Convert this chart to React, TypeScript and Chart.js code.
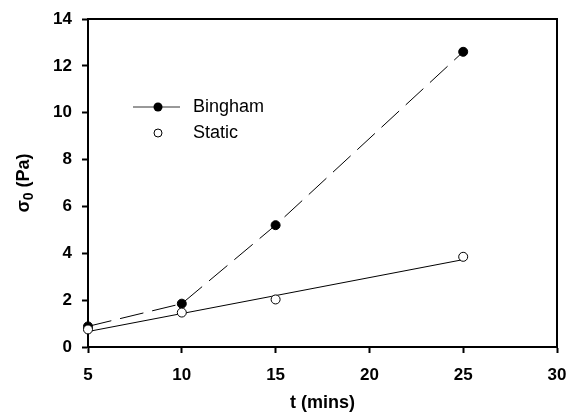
import React, { useEffect, useRef } from "react";
import { Chart, registerables } from "chart.js";

Chart.register(...registerables);

const timeMins = [5, 10, 15, 25];
const binghamValues = [0.88, 1.85, 5.2, 12.6];
const staticValues = [0.75, 1.47, 2.03, 3.85];
const staticFitX = [5, 25];
const staticFitY = [0.66, 3.73];
const xTickValues = [5, 10, 15, 20, 25, 30];
const yTickValues = [0, 2, 4, 6, 8, 10, 12, 14];
const legendLabels = ["Bingham", "Static"];

const FONT = "'Liberation Sans', Arial, Helvetica, sans-serif";

const overlayPlugin = {
  id: "overlay",
  afterDraw(chart: any) {
    const ctx = chart.ctx as CanvasRenderingContext2D;
    const a = chart.chartArea;
    ctx.save();
    // frame top + right
    ctx.strokeStyle = "#000";
    ctx.lineWidth = 2;
    ctx.beginPath();
    ctx.moveTo(a.left, a.top);
    ctx.lineTo(a.right, a.top);
    ctx.lineTo(a.right, a.bottom);
    ctx.stroke();

    // legend
    const lx = 158;
    const ly1 = 107;
    const ly2 = 133;
    ctx.lineWidth = 1;
    ctx.strokeStyle = "#333";
    ctx.beginPath();
    ctx.moveTo(133, ly1);
    ctx.lineTo(180, ly1);
    ctx.stroke();
    ctx.fillStyle = "#000";
    ctx.beginPath();
    ctx.arc(lx, ly1, 4.5, 0, Math.PI * 2);
    ctx.fill();
    ctx.fillStyle = "#fff";
    ctx.strokeStyle = "#000";
    ctx.beginPath();
    ctx.arc(lx, ly2, 4, 0, Math.PI * 2);
    ctx.fill();
    ctx.stroke();
    ctx.fillStyle = "#000";
    ctx.font = `18px ${FONT}`;
    ctx.textAlign = "left";
    ctx.textBaseline = "middle";
    ctx.fillText(legendLabels[0], 193, ly1);
    ctx.fillText(legendLabels[1], 193, ly2);

    // x title
    ctx.font = `bold 18px ${FONT}`;
    ctx.textAlign = "center";
    ctx.textBaseline = "middle";
    ctx.fillText("t (mins)", (a.left + a.right) / 2, 403);

    // y title with subscript
    ctx.translate(23, (a.top + a.bottom) / 2);
    ctx.rotate(-Math.PI / 2);
    const big = `bold 18px ${FONT}`;
    const small = `bold 14px ${FONT}`;
    ctx.font = big;
    const w1 = ctx.measureText("σ").width;
    const w3 = ctx.measureText(" (Pa)").width;
    ctx.font = small;
    const w2 = ctx.measureText("0").width;
    const total = w1 + w2 + w3;
    let x = -total / 2;
    ctx.textAlign = "left";
    ctx.textBaseline = "alphabetic";
    ctx.font = big;
    ctx.fillText("σ", x, 6);
    x += w1;
    ctx.font = small;
    ctx.fillText("0", x, 10);
    x += w2;
    ctx.font = big;
    ctx.fillText(" (Pa)", x, 6);
    ctx.restore();
  },
};

export default function App() {
  const ref = useRef<HTMLCanvasElement | null>(null);
  useEffect(() => {
    if (!ref.current) return;
    const chart = new Chart(ref.current, {
      type: "line",
      data: {
        datasets: [
          {
            label: legendLabels[1],
            data: timeMins.map((t, i) => ({ x: t, y: staticValues[i] })),
            showLine: false,
            pointRadius: 4.5,
            pointBackgroundColor: "#fff",
            pointBorderColor: "#000",
            pointBorderWidth: 1,
            clip: false as any,
          },
          {
            label: legendLabels[0],
            data: timeMins.map((t, i) => ({ x: t, y: binghamValues[i] })),
            borderColor: "#000",
            borderWidth: 1,
            borderDash: [24, 9],
            pointRadius: 4.5,
            pointBackgroundColor: "#000",
            pointBorderColor: "#000",
            pointBorderWidth: 1,
            tension: 0,
            clip: false as any,
          },
          {
            label: "fit",
            data: staticFitX.map((t, i) => ({ x: t, y: staticFitY[i] })),
            borderColor: "#000",
            borderWidth: 1,
            pointRadius: 0,
            tension: 0,
            clip: false as any,
          },
        ],
      },
      options: {
        animation: false,
        responsive: false,
        events: [],
        layout: { padding: { left: 0, right: 12, top: 19, bottom: 0 } },
        plugins: {
          legend: { display: false },
          tooltip: { enabled: false },
        },
        scales: {
          x: {
            type: "linear",
            min: 5,
            max: 30,
            afterFit: (s: any) => {
              s.height = 65;
              s.paddingLeft = 0;
              s.paddingRight = 0;
            },
            afterBuildTicks: (s: any) => {
              s.ticks = xTickValues.map((v) => ({ value: v }));
            },
            grid: {
              drawOnChartArea: false,
              drawTicks: true,
              tickLength: 6,
              tickWidth: 2,
              tickColor: "#000",
            },
            border: { color: "#000", width: 2 },
            ticks: {
              color: "#000",
              padding: 12,
              font: { family: FONT, size: 17, weight: "bold" },
            },
          },
          y: {
            type: "linear",
            min: 0,
            max: 14,
            afterFit: (s: any) => {
              s.width = 88;
              s.paddingTop = 0;
              s.paddingBottom = 0;
            },
            afterBuildTicks: (s: any) => {
              s.ticks = yTickValues.map((v) => ({ value: v }));
            },
            grid: {
              drawOnChartArea: false,
              drawTicks: true,
              tickLength: 6,
              tickWidth: 2,
              tickColor: "#000",
            },
            border: { color: "#000", width: 2 },
            ticks: {
              color: "#000",
              padding: 10,
              font: { family: FONT, size: 17, weight: "bold" },
            },
          },
        },
      },
      plugins: [overlayPlugin],
    });
    return () => chart.destroy();
  }, []);
  return (
    <div style={{ position: "absolute", left: 0, top: 0, width: 569, height: 412, background: "#fff" }}>
      <canvas ref={ref} width={569} height={412} style={{ display: "block" }} />
    </div>
  );
}
